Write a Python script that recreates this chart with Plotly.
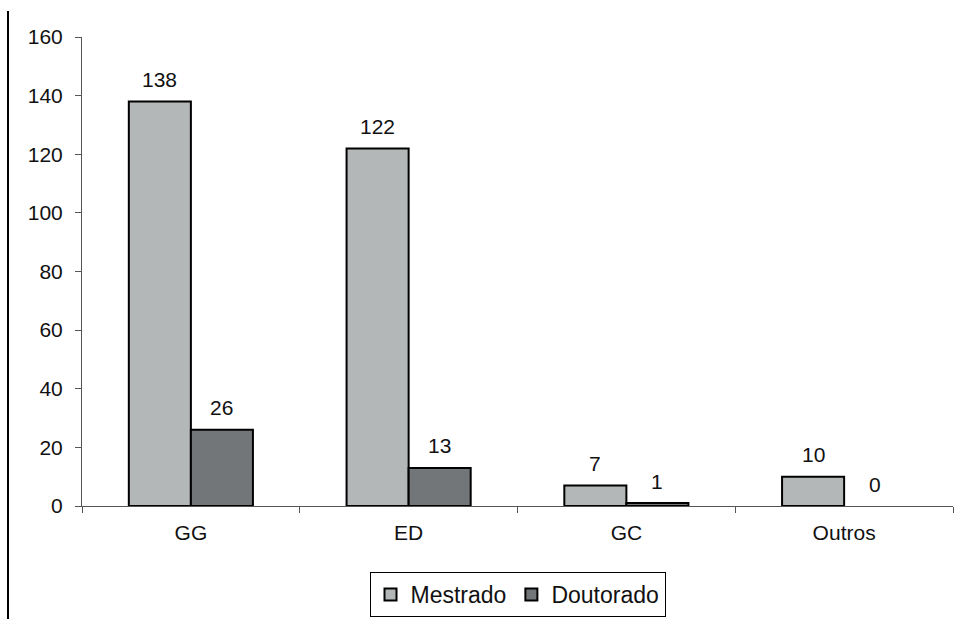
import plotly.graph_objects as go

categories = ["GG", "ED", "GC", "Outros"]
mestrado = [138, 122, 7, 10]
doutorado = [26, 13, 1, 0]
y_ticks = [0, 20, 40, 60, 80, 100, 120, 140, 160]

FONT = "Liberation Sans, Arial, sans-serif"
W, H = 965, 619
L, R, T, B = 82, 12, 37, 113
PLOT_W, PLOT_H = W - L - R, H - T - B


def outline_widths(vals):
    # zero-height bars get no outline so nothing is drawn on the axis
    return [2 if v else 0 for v in vals]


fig = go.Figure()
fig.add_trace(go.Bar(
    name="Mestrado", x=categories, y=mestrado,
    marker=dict(color="#b4b7b7",
                line=dict(color="#000000", width=outline_widths(mestrado))),
))
fig.add_trace(go.Bar(
    name="Doutorado", x=categories, y=doutorado,
    marker=dict(color="#737678",
                line=dict(color="#000000", width=outline_widths(doutorado))),
))

# value labels above each bar (each bar is 0.285 of a category wide)
for i, cat in enumerate(categories):
    for off, vals in ((-0.5, mestrado), (0.5, doutorado)):
        fig.add_annotation(
            x=i + off * 0.285, y=vals[i], xref="x", yref="y",
            text=str(vals[i]), showarrow=False, yanchor="middle", yshift=22,
            font=dict(family=FONT, size=21, color="#111111"),
        )

# frame line at the left edge of the page
fig.add_shape(
    type="line", xref="paper", yref="paper",
    x0=(8 - L) / PLOT_W, x1=(8 - L) / PLOT_W,
    y0=(H - B - 11) / PLOT_H, y1=-B / PLOT_H,
    line=dict(color="#000000", width=2),
)

fig.update_layout(
    width=W, height=H,
    margin=dict(l=L, r=R, t=T, b=B, autoexpand=False),
    paper_bgcolor="white", plot_bgcolor="white",
    barmode="group", bargap=0.43, bargroupgap=0,
    font=dict(family=FONT, size=21, color="#111111"),
    showlegend=True,
    legend=dict(
        orientation="h", x=0.5, xanchor="center",
        y=-66 / PLOT_H, yanchor="top",
        bordercolor="#000000", borderwidth=1, bgcolor="white",
        font=dict(family=FONT, size=23, color="#111111"),
        itemwidth=30, tracegroupgap=0,
    ),
    xaxis=dict(
        type="category", showline=True, linecolor="#555555", linewidth=1,
        ticks="outside", tickson="boundaries", ticklen=6, tickcolor="#555555",
        showgrid=False, ticklabelstandoff=8,
        tickfont=dict(family=FONT, size=21, color="#111111"),
    ),
    yaxis=dict(
        range=[0, 160], tickvals=y_ticks, showline=True, linecolor="#555555",
        linewidth=1, ticks="outside", ticklen=6, tickcolor="#555555",
        showgrid=False, zeroline=False, ticklabelstandoff=8,
        tickfont=dict(family=FONT, size=21, color="#111111"),
    ),
)

fig.write_html("out.html")
